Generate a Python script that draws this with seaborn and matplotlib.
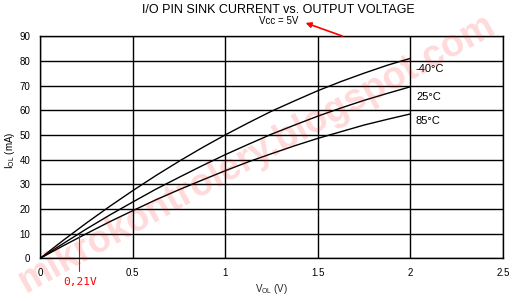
import numpy as np
import pandas as pd
import seaborn as sns
import matplotlib
matplotlib.use("Agg")
import matplotlib.pyplot as plt

voltage = [0, 0.125, 0.25, 0.375, 0.5, 0.625, 0.75, 0.875, 1.0,
           1.125, 1.25, 1.375, 1.5, 1.625, 1.75, 1.875, 2.0]
cur_m40 = [0, 7.3, 14.3, 21.0, 27.4, 33.5, 39.3, 44.8, 50.0,
           54.9, 59.6, 63.8, 67.9, 71.6, 75.0, 78.2, 81.0]
cur_25 = [0, 6.0, 11.9, 17.5, 22.8, 28.0, 32.8, 37.5, 42.0,
          46.2, 50.3, 54.0, 57.6, 60.9, 64.0, 66.8, 69.5]
cur_85 = [0, 5.1, 10.0, 14.8, 19.3, 23.7, 27.8, 31.7, 35.5,
          39.1, 42.4, 45.6, 48.6, 51.3, 54.0, 56.3, 58.5]
temps = ["-40°C", "25°C", "85°C"]
x_ticks = [0, 0.5, 1, 1.5, 2, 2.5]
x_tick_labels = ["0", "0.5", "1", "1.5", "2", "2.5"]
y_ticks = [0, 10, 20, 30, 40, 50, 60, 70, 80, 90]

sns.set_theme(style="white")
plt.rcParams['font.family'] = ['Liberation Sans', 'DejaVu Sans']

n = len(voltage)
df = pd.DataFrame({
    "V": voltage * 3,
    "I": cur_m40 + cur_25 + cur_85,
    "T": [temps[0]] * n + [temps[1]] * n + [temps[2]] * n,
})

fig = plt.figure(figsize=(5.13, 3.01), dpi=100)
ax = fig.add_axes([0.078, 0.1415, 0.9025, 0.7385])

sns.lineplot(data=df, x="V", y="I", hue="T", palette=["black"] * 3,
             linewidth=1.0, legend=False, ax=ax)

ax.set_xlim(0, 2.5)
ax.set_ylim(0, 90)
ax.set_xticks(x_ticks)
ax.set_xticklabels(x_tick_labels)
ax.set_yticks(y_ticks)
ax.tick_params(length=0, labelsize=7, colors="black", pad=7)
ax.grid(True, color="black", linewidth=1.0)
for s in ax.spines.values():
    s.set_color("black")
    s.set_linewidth(1.0)

ax.set_xlabel("V$_{\\mathregular{OL}}$ (V)", fontsize=7, labelpad=3)
ax.set_ylabel("")
fig.text(10 / 513, 0.5, "I$_{\\mathregular{OL}}$ (mA)", fontsize=7, rotation=90,
         ha="center", va="center", color="black")

# temperature labels
for lab, yv in zip(temps, [76.5, 65.5, 55.5]):
    ax.text(2.03, yv, lab, fontsize=8, va="center", ha="left", color="black")

# title
fig.text(0.542, 0.967, "I/O PIN SINK CURRENT vs. OUTPUT VOLTAGE", ha="center", va="center",
         fontsize=9, color="black")
fig.text(0.544, 0.93, "Vcc = 5V", ha="center", va="center", fontsize=7, color="black")

# red annotations
ax.annotate("", xy=(303 / 513, 1 - 22 / 301), xytext=(345 / 513, 1 - 37 / 301),
            xycoords="figure fraction", textcoords="figure fraction",
            arrowprops=dict(arrowstyle="-|>", color="red", lw=1.2, mutation_scale=8))
ax.plot([0.21, 0.21], [-5, 10], color="red", linewidth=0.8, clip_on=False)
fig.text(80 / 513, 1 - 282 / 301, "0,21V", color="red", fontsize=8, ha="center", va="center",
         family="DejaVu Sans Mono")

# watermark
fig.text(0.5, 0.49, "mikrokontrolery.blogspot.com", color="red", alpha=0.15, fontsize=27,
         rotation=29, ha="center", va="center", fontweight="bold")

fig.savefig("out.png", dpi=100)
